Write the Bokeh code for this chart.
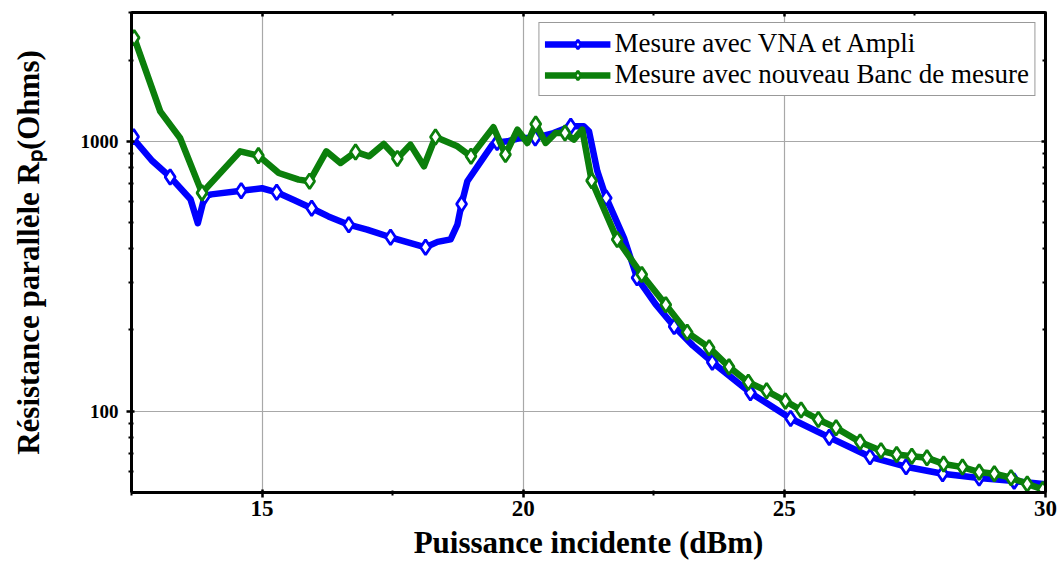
import numpy as np
from bokeh.plotting import figure
from bokeh.models import (Range1d, FixedTicker, LinearAxis, LogAxis, Legend,
                          LegendItem, PrintfTickFormatter, CustomLabelingPolicy)
from bokeh.embed import file_html
from bokeh.resources import INLINE

# ---------------- data ----------------
blue_x = [12.5, 12.9, 13.24, 13.63, 13.77, 13.9, 14.03, 14.6, 15.0, 15.28, 15.62, 15.95,
          16.27, 16.66, 17.01, 17.46, 18.13, 18.36, 18.61, 18.74, 18.82, 18.93, 19.19,
          19.41, 19.5, 19.7, 19.95, 20.23, 20.58, 20.91, 21.16, 21.26, 21.42, 21.59,
          21.93, 22.18, 22.53, 22.89, 23.25, 23.62, 24.35, 25.12, 25.86, 26.64, 27.33,
          28.03, 28.73, 29.4, 30.0]
blue_y = [1040, 845, 738, 610, 497, 626, 636, 656, 670, 647, 605, 565,
          527, 491, 471, 441, 405, 424, 433, 491, 586, 711, 843,
          972, 990, 1000, 1029, 1029, 1073, 1136, 1136, 1089, 774, 617,
          438, 312, 250, 206, 175, 152, 117, 94, 80, 67.8, 62.3,
          58.7, 56.6, 55.1, 53.6]
blue_mx = [12.54, 13.24, 13.9, 14.6, 15.28, 15.95, 16.66, 17.46, 18.13, 18.82, 19.5,
           20.23, 20.91, 21.59, 22.18, 22.89, 23.62, 24.35, 25.12, 25.86, 26.64, 27.33,
           28.03, 28.73, 29.4]
blue_my = [1040, 738, 626, 656, 647, 565, 491, 441, 405, 586, 990,
           1029, 1136, 617, 312, 206, 152, 117, 94, 80, 67.8, 62.3,
           58.7, 56.6, 55.1]

green_x = [12.55, 13.05, 13.43, 13.85, 14.58, 14.93, 15.32, 15.7, 15.91, 16.23, 16.5,
           16.79, 17.05, 17.33, 17.59, 17.84, 18.1, 18.32, 18.74, 19.0, 19.43, 19.66,
           19.89, 20.08, 20.24, 20.43, 20.62, 20.8, 20.97, 21.13, 21.31, 21.8, 22.27,
           22.73, 23.14, 23.56, 23.94, 24.31, 24.66, 25.02, 25.32, 25.65, 25.99, 26.45,
           26.85, 27.15, 27.44, 27.73, 28.05, 28.41, 28.73, 29.02, 29.34, 29.65, 29.95]
green_y = [2420, 1291, 1029, 644, 918, 885, 763, 721, 711, 918, 831,
           913, 880, 977, 864, 972, 808, 1037, 958, 880, 1127, 893,
           1105, 986, 1159, 986, 1073, 1073, 1014, 1105, 715, 433, 321,
           248, 196, 172, 146, 128, 119, 109, 101, 93.2, 86.8, 76.9,
           71.4, 69.1, 68.1, 67.2, 63.8, 62.1, 59.5, 58.7, 56.7, 53.8, 51.3]
green_mx = [12.55, 13.85, 14.93, 15.91, 16.79, 17.59, 18.32, 19.0, 19.66, 20.24, 20.8,
            21.31, 21.8, 22.27, 22.73, 23.14, 23.56, 23.94, 24.31, 24.66, 25.02, 25.32,
            25.65, 25.99, 26.45, 26.85, 27.15, 27.44, 27.73, 28.05, 28.41, 28.73, 29.02,
            29.34, 29.65, 29.95]
green_my = [2420, 644, 885, 711, 913, 864, 1037, 880, 893, 1159, 1073,
            715, 433, 321, 248, 196, 172, 146, 128, 119, 109, 101,
            93.2, 86.8, 76.9, 71.4, 69.1, 68.1, 67.2, 63.8, 62.1, 59.5, 58.7,
            56.7, 53.8, 51.3]

x_major = [15, 20, 25, 30]
x_minor = [12.5, 17.5, 22.5, 27.5]
y_major = [100, 1000]
y_minor = [60, 70, 80, 90, 200, 300, 400, 500, 600, 700, 800, 900, 2000, 3000]

series_names = ["Mesure avec VNA et Ampli", "Mesure avec nouveau Banc de mesure"]
x_title = "Puissance incidente (dBm)"
y_title = "Résistance parallèle R\u209a(Ohms)"

BLUE = "#0000ff"
GREEN = "#0b7f0b"
FONT = "Liberation Serif"

# ---------------- figure ----------------
p = figure(y_axis_type="log", x_range=Range1d(12.5, 30), y_range=Range1d(50, 3000),
           frame_width=914, frame_height=480,
           min_border_left=131, min_border_right=0, min_border_top=0, min_border_bottom=0,
           output_backend="svg", toolbar_location=None)
p.outline_line_color = None
p.background_fill_color = "white"

xt = FixedTicker(ticks=x_major, minor_ticks=x_minor)
yt = FixedTicker(ticks=y_major, minor_ticks=y_minor)

def style_axis(ax, labels=True):
    ax.axis_line_width = 3
    ax.axis_line_color = "black"
    ax.major_tick_line_width = 2.5
    ax.minor_tick_line_width = 2
    ax.major_tick_line_color = "black"
    ax.minor_tick_line_color = "black"
    ax.major_tick_out = 5
    ax.major_tick_in = 3
    ax.minor_tick_out = 3
    ax.minor_tick_in = 2
    if labels:
        ax.major_label_text_font = FONT
        ax.major_label_text_font_style = "bold"
        ax.major_label_text_color = "black"
    else:
        ax.major_label_policy = CustomLabelingPolicy(
            code="for (const i of indices) { indices.unset(i) } return indices")
        ax.major_label_standoff = 0
        ax.major_tick_out = 1
        ax.minor_tick_out = 1
        ax.major_tick_in = 4
        ax.minor_tick_in = 3

xa = p.xaxis[0]
xa.ticker = xt
style_axis(xa)
xa.major_label_text_font_size = "23px"
xa.major_label_standoff = 3
xa.axis_label = x_title
xa.axis_label_text_font = FONT
xa.axis_label_text_font_style = "bold"
xa.axis_label_text_font_size = "31px"
xa.axis_label_text_color = "black"
xa.axis_label_standoff = 6

ya = p.yaxis[0]
ya.ticker = yt
ya.formatter = PrintfTickFormatter(format="%d")
style_axis(ya)
ya.major_label_text_font_size = "19px"
ya.major_label_standoff = 8
ya.axis_label = y_title
ya.axis_label_text_font = FONT
ya.axis_label_text_font_style = "bold"
ya.axis_label_text_font_size = "31px"
ya.axis_label_text_color = "black"
ya.axis_label_standoff = 32

top = LinearAxis(ticker=xt)
style_axis(top, labels=False)
p.add_layout(top, "above")
right = LogAxis(ticker=yt)
style_axis(right, labels=False)
p.add_layout(right, "right")

p.xgrid.ticker = xt
p.ygrid.ticker = yt
for g in (p.xgrid[0], p.ygrid[0]):
    g.grid_line_color = "#a8a8a8"
    g.grid_line_width = 1.2

# ---------------- series ----------------
bl = p.line(blue_x, blue_y, line_color=BLUE, line_width=6.5, line_join="round")
bm = p.scatter(blue_mx, blue_my, marker="diamond", size=15, fill_color="white",
               line_color=BLUE, line_width=2.8)
gl = p.line(green_x, green_y, line_color=GREEN, line_width=6.5, line_join="round")
gm = p.scatter(green_mx, green_my, marker="diamond", size=15, fill_color="white",
               line_color=GREEN, line_width=2.8)

legend = Legend(items=[LegendItem(label=series_names[0], renderers=[bl, bm]),
                       LegendItem(label=series_names[1], renderers=[gl, gm])],
                location="top_right")
legend.label_text_font = FONT
legend.label_text_font_size = "27px"
legend.label_text_color = "black"
legend.glyph_width = 66
legend.glyph_height = 22
legend.label_standoff = 4
legend.label_height = 22
legend.spacing = -3
legend.padding = 5
legend.margin = 10
legend.border_line_color = "#333333"
legend.border_line_width = 1.2
legend.background_fill_color = "white"
legend.background_fill_alpha = 1
p.add_layout(legend)

open("out.html", "w").write(file_html(p, INLINE))
